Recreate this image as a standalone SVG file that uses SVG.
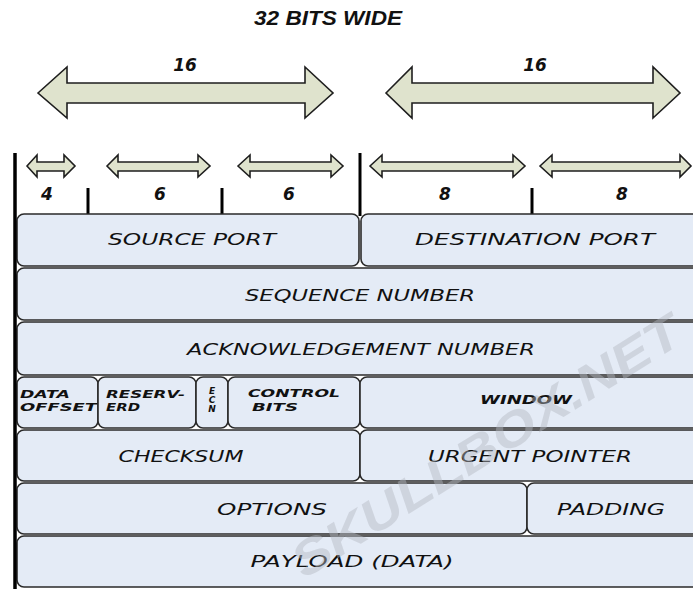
<svg xmlns="http://www.w3.org/2000/svg" width="693" height="589" viewBox="0 0 693 589">
<defs>
<style>
.arr{fill:#dfe3cd;stroke:#1e1e1e;stroke-width:1.6;stroke-linejoin:miter}
.box{fill:#e4ebf6;stroke:#2a2a2a;stroke-width:1.6}
.lbl{font-family:"DejaVu Sans","Liberation Sans",sans-serif;font-style:italic;font-size:15px;fill:#111;text-anchor:middle}
.sm{font-family:"DejaVu Sans","Liberation Sans",sans-serif;font-style:italic;font-weight:bold;font-size:11px;fill:#111}
.num{font-family:"DejaVu Sans","Liberation Sans",sans-serif;font-style:italic;font-weight:bold;font-size:17px;fill:#111;text-anchor:middle}
.vline{stroke:#000;stroke-width:3}
</style>
</defs>
<rect width="693" height="589" fill="#fff"/>
<text x="328" y="25" font-family="Liberation Sans, Arial, sans-serif" font-style="italic" font-weight="bold" font-size="20" fill="#111" text-anchor="middle" textLength="148" lengthAdjust="spacingAndGlyphs">32 BITS WIDE</text>
<g id="scale">
<text x="185" y="71" class="num">16</text>
<text x="535" y="71" class="num">16</text>
<polygon class="arr" points="38,93 67,67 67,83 305,83 305,67 333,93 305,118 305,103 67,103 67,118"/>
<polygon class="arr" points="386,93 412,67 412,83 653,83 653,67 680,93 653,118 653,103 412,103 412,118"/>
<polygon class="arr" points="27,166 37,155 37,162 64,162 64,155 75,166 64,177 64,171 37,171 37,177"/>
<polygon class="arr" points="107,166 118,155 118,162 198,162 198,155 210,166 198,177 198,171 118,171 118,177"/>
<polygon class="arr" points="238,166 250,155 250,162 331,162 331,155 343,166 331,177 331,171 250,171 250,177"/>
<polygon class="arr" points="370,166 382,155 382,162 513,162 513,155 525,166 513,177 513,171 382,171 382,177"/>
<polygon class="arr" points="540,166 552,155 552,162 680,162 680,155 691,166 680,177 680,171 552,171 552,177"/>
<text x="47" y="200" class="num">4</text>
<text x="160" y="200" class="num">6</text>
<text x="289" y="200" class="num">6</text>
<text x="445" y="200" class="num">8</text>
<text x="622" y="200" class="num">8</text>
<line class="vline" x1="88" y1="188" x2="88" y2="215"/>
<line class="vline" x1="222" y1="188" x2="222" y2="215"/>
<line class="vline" x1="532" y1="188" x2="532" y2="215"/>
<line class="vline" x1="360" y1="153" x2="360" y2="216"/>
</g>
<g id="source-port"><rect class="box" x="17" y="214" width="342" height="52" rx="7"/><text x="192" y="245" class="lbl" textLength="168" lengthAdjust="spacingAndGlyphs">SOURCE PORT</text></g>
<g id="destination-port"><rect class="box" x="361" y="214" width="345" height="52" rx="7"/><text x="535" y="245" class="lbl" textLength="240" lengthAdjust="spacingAndGlyphs">DESTINATION PORT</text></g>
<g id="sequence-number"><rect class="box" x="17" y="268" width="690" height="52" rx="7"/><text x="360" y="301" class="lbl" textLength="230" lengthAdjust="spacingAndGlyphs">SEQUENCE NUMBER</text></g>
<g id="ack-number"><rect class="box" x="17" y="322" width="690" height="53" rx="7"/><text x="361" y="355" class="lbl" textLength="348" lengthAdjust="spacingAndGlyphs">ACKNOWLEDGEMENT NUMBER</text></g>
<g id="data-offset"><rect class="box" x="17" y="377" width="81" height="51" rx="7"/><text x="20" y="398" class="sm" textLength="50" lengthAdjust="spacingAndGlyphs">DATA</text><text x="20" y="411" class="sm" textLength="77" lengthAdjust="spacingAndGlyphs">OFFSET</text></g>
<g id="reserved"><rect class="box" x="98" y="377" width="98" height="51" rx="7"/><text x="106" y="398" class="sm" textLength="79" lengthAdjust="spacingAndGlyphs">RESERV-</text><text x="106" y="411" class="sm" textLength="34" lengthAdjust="spacingAndGlyphs">ERD</text></g>
<g id="ecn"><rect class="box" x="196" y="377" width="32" height="51" rx="7"/><text class="sm" style="font-size:9px" text-anchor="middle"><tspan x="212" y="394">E</tspan><tspan x="212" y="403">C</tspan><tspan x="212" y="412">N</tspan></text></g>
<g id="control-bits"><rect class="box" x="228" y="377" width="132" height="51" rx="7"/><text x="248" y="397" class="sm" textLength="92" lengthAdjust="spacingAndGlyphs">CONTROL</text><text x="252" y="411" class="sm" textLength="46" lengthAdjust="spacingAndGlyphs">BITS</text></g>
<g id="window"><rect class="box" x="360" y="377" width="346" height="51" rx="7"/><text x="526" y="404" class="lbl" style="font-weight:bold;font-size:12px" textLength="92" lengthAdjust="spacingAndGlyphs">WINDOW</text></g>
<g id="checksum"><rect class="box" x="17" y="430" width="343" height="51" rx="7"/><text x="181" y="462" class="lbl" textLength="125" lengthAdjust="spacingAndGlyphs">CHECKSUM</text></g>
<g id="urgent-pointer"><rect class="box" x="360" y="430" width="346" height="51" rx="7"/><text x="530" y="462" class="lbl" textLength="204" lengthAdjust="spacingAndGlyphs">URGENT POINTER</text></g>
<g id="options"><rect class="box" x="17" y="483" width="510" height="51" rx="7"/><text x="272" y="515" class="lbl" textLength="110" lengthAdjust="spacingAndGlyphs">OPTIONS</text></g>
<g id="padding"><rect class="box" x="527" y="483" width="180" height="51" rx="7"/><text x="611" y="515" class="lbl" textLength="108" lengthAdjust="spacingAndGlyphs">PADDING</text></g>
<g id="payload"><rect class="box" x="17" y="536" width="690" height="51" rx="7"/><text x="352" y="567" class="lbl" textLength="203" lengthAdjust="spacingAndGlyphs">PAYLOAD (DATA)</text></g>
<line class="vline" x1="15" y1="153" x2="15" y2="589" style="stroke-width:3.5"/>
<text x="0" y="0" transform="translate(495,460) rotate(-32)" font-family="Liberation Sans, Arial, sans-serif" font-weight="bold" font-style="italic" font-size="48" fill="#b4b9c2" fill-opacity="0.45" text-anchor="middle" textLength="450" lengthAdjust="spacingAndGlyphs">SKULLBOX.NET</text>
</svg>
